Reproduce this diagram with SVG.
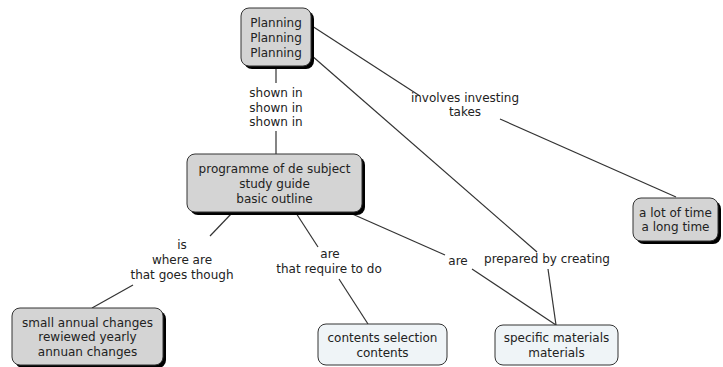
<svg xmlns="http://www.w3.org/2000/svg" width="723" height="367" viewBox="0 0 723 367">
<style>
text{font-family:"DejaVu Sans","Verdana",sans-serif;font-size:12px;fill:#222;text-anchor:middle}
.g{fill:#d4d4d4;stroke:#333;stroke-width:1}
.l{fill:#eff4f7;stroke:#333;stroke-width:1}
.s{fill:#000}
.c line{stroke:#333;stroke-width:1.2}
</style>
<rect width="723" height="367" fill="#fff"/>
<g class="c" id="connectors">
<line x1="276" y1="66" x2="276" y2="83"/>
<line x1="276" y1="131" x2="276" y2="154"/>
<line x1="312" y1="26" x2="420" y2="96"/>
<line x1="500" y1="119" x2="676" y2="197"/>
<line x1="311" y1="55" x2="537" y2="252"/>
<line x1="548" y1="269" x2="556" y2="325"/>
<line x1="232" y1="213" x2="210" y2="236"/>
<line x1="133" y1="285" x2="92" y2="308"/>
<line x1="296" y1="213" x2="318" y2="247"/>
<line x1="339" y1="279" x2="368" y2="324"/>
<line x1="350" y1="213" x2="445" y2="255"/>
<line x1="472" y1="269" x2="556" y2="325"/>
</g>
<g id="labels">
<text x="276" y="97">shown in</text>
<text x="276" y="112">shown in</text>
<text x="276" y="126">shown in</text>
<text x="465" y="102">involves investing</text>
<text x="465" y="116">takes</text>
<text x="182" y="249">is</text>
<text x="182" y="264">where are</text>
<text x="182" y="279">that goes though</text>
<text x="330" y="258">are</text>
<text x="329" y="273">that require to do</text>
<text x="458" y="265">are</text>
<text x="547" y="263">prepared by creating</text>
</g>
<g id="planning">
<rect class="s" x="244" y="11" width="70" height="58" rx="8"/>
<rect class="g" x="241" y="8" width="70" height="58" rx="8"/>
<text x="276" y="27">Planning</text>
<text x="276" y="42">Planning</text>
<text x="276" y="57">Planning</text>
</g>
<g id="programme">
<rect class="s" x="190" y="157" width="175" height="58" rx="8"/>
<rect class="g" x="187" y="154" width="175" height="58" rx="8"/>
<text x="274.5" y="173">programme of de subject</text>
<text x="274.5" y="188">study guide</text>
<text x="274.5" y="203">basic outline</text>
</g>
<g id="small-annual">
<rect class="s" x="15" y="311" width="151" height="57" rx="8"/>
<rect class="g" x="12" y="308" width="151" height="57" rx="8"/>
<text x="87.5" y="327">small annual changes</text>
<text x="87.5" y="341">rewiewed yearly</text>
<text x="87.5" y="356">annuan changes</text>
</g>
<g id="contents">
<rect class="l" x="318" y="324" width="129" height="41" rx="8"/>
<text x="382.5" y="342">contents selection</text>
<text x="382.5" y="357">contents</text>
</g>
<g id="materials">
<rect class="l" x="495" y="325" width="123" height="40" rx="8"/>
<text x="556.5" y="342">specific materials</text>
<text x="556.5" y="357">materials</text>
</g>
<g id="time">
<rect class="s" x="636" y="201" width="85" height="43" rx="8"/>
<rect class="g" x="633" y="198" width="85" height="43" rx="8"/>
<text x="675.5" y="217">a lot of time</text>
<text x="675.5" y="231">a long time</text>
</g>
</svg>
